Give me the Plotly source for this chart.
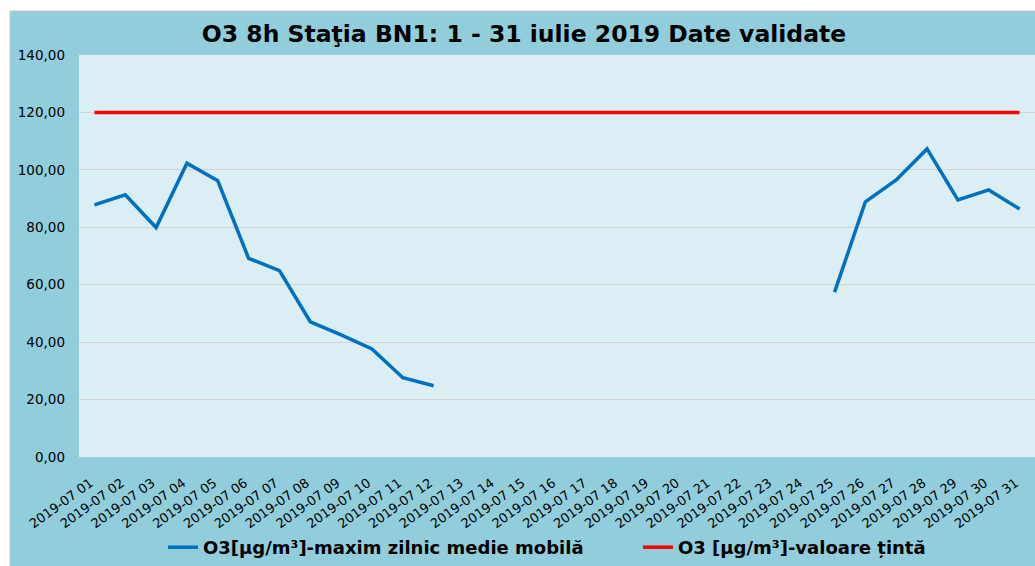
import plotly.graph_objects as go

days = [f"2019-07 {d:02d}" for d in range(1, 32)]
o3_max = [87.8, 91.3, 79.9, 102.3, 96.2, 69.2, 64.9, 47.1, 42.5, 37.6, 27.6, 24.8,
          None, None, None, None, None, None, None, None, None, None, None, None,
          57.4, 88.9, 96.5, 107.3, 89.5, 93.0, 86.4]
target = [120.0] * 31
y_ticks = [0, 20, 40, 60, 80, 100, 120, 140]

BG = "#92CDDC"
PLOT_BG = "#DAEEF3"
FONT = "DejaVu Sans, Liberation Sans, Arial, sans-serif"

W, H = 1035, 566
L, R, T, B = 79, 0, 55, 566 - 457
pw, ph = W - L - R, H - T - B


def px(x):
    return (x - L) / pw


def py(y):
    return (H - B - y) / ph


fig = go.Figure()
fig.add_trace(go.Scatter(x=days, y=o3_max, mode="lines", connectgaps=False,
                         name="O3[µg/m³]-maxim zilnic medie mobilă",
                         line=dict(color="#0070C0", width=3.5), legend="legend"))
fig.add_trace(go.Scatter(x=days, y=target, mode="lines",
                         name="O3 [µg/m³]-valoare țintă",
                         line=dict(color="#FF0000", width=3.5), legend="legend2"))

leg_font = dict(family=FONT, size=18, color="#000000", weight="bold")

fig.update_layout(
    width=W, height=H,
    margin=dict(l=L, r=R, t=T, b=B),
    paper_bgcolor=BG, plot_bgcolor=PLOT_BG,
    separators=",.",
    title=dict(text="<b>O3 8h Staţia BN1: 1 - 31 iulie 2019 Date validate</b>",
               x=524 / W, xanchor="center", y=1 - 34 / H, yanchor="middle",
               font=dict(family=FONT, size=23.5, color="#000000")),
    font=dict(family=FONT, color="#000000"),
    showlegend=True,
    legend=dict(orientation="h", x=px(163), xanchor="left", y=py(548), yanchor="middle",
                font=leg_font, bgcolor="rgba(0,0,0,0)", itemwidth=30),
    legend2=dict(orientation="h", x=px(638), xanchor="left", y=py(548), yanchor="middle",
                 font=leg_font, bgcolor="rgba(0,0,0,0)", itemwidth=30),
    shapes=[
        dict(type="rect", xref="paper", yref="paper", x0=px(0), x1=px(W), y0=py(11), y1=py(0),
             fillcolor="white", line=dict(width=0), layer="above"),
        dict(type="rect", xref="paper", yref="paper", x0=px(0), x1=px(10), y0=py(H), y1=py(0),
             fillcolor="white", line=dict(width=0), layer="above"),
        dict(type="line", xref="paper", yref="paper", x0=px(10), x1=px(W), y0=py(11), y1=py(11),
             line=dict(color="#C8C8C8", width=1), layer="above"),
        dict(type="line", xref="paper", yref="paper", x0=px(10), x1=px(10), y0=py(11), y1=py(H),
             line=dict(color="#C8C8C8", width=1), layer="above"),
    ],
)
fig.update_xaxes(type="category", range=[-0.5, len(days) - 0.5],
                 tickangle=-36, tickfont=dict(size=13, family=FONT),
                 showgrid=False, showline=False, zeroline=False,
                 ticks="", ticklabelstandoff=15, ticklabelshift=-4)
fig.update_yaxes(range=[0, 140], tickvals=y_ticks, tickformat=".2f",
                 tickfont=dict(size=13.5, family=FONT),
                 showgrid=True, gridcolor="#D4D4D4", gridwidth=1,
                 zeroline=False, showline=False,
                 ticks="", ticklabelstandoff=13)

post = (
    "document.body.style.margin='0px';"
    "document.body.style.overflow='hidden';"
)
fig.write_html("out.html", post_script=post, config={"displayModeBar": False})
